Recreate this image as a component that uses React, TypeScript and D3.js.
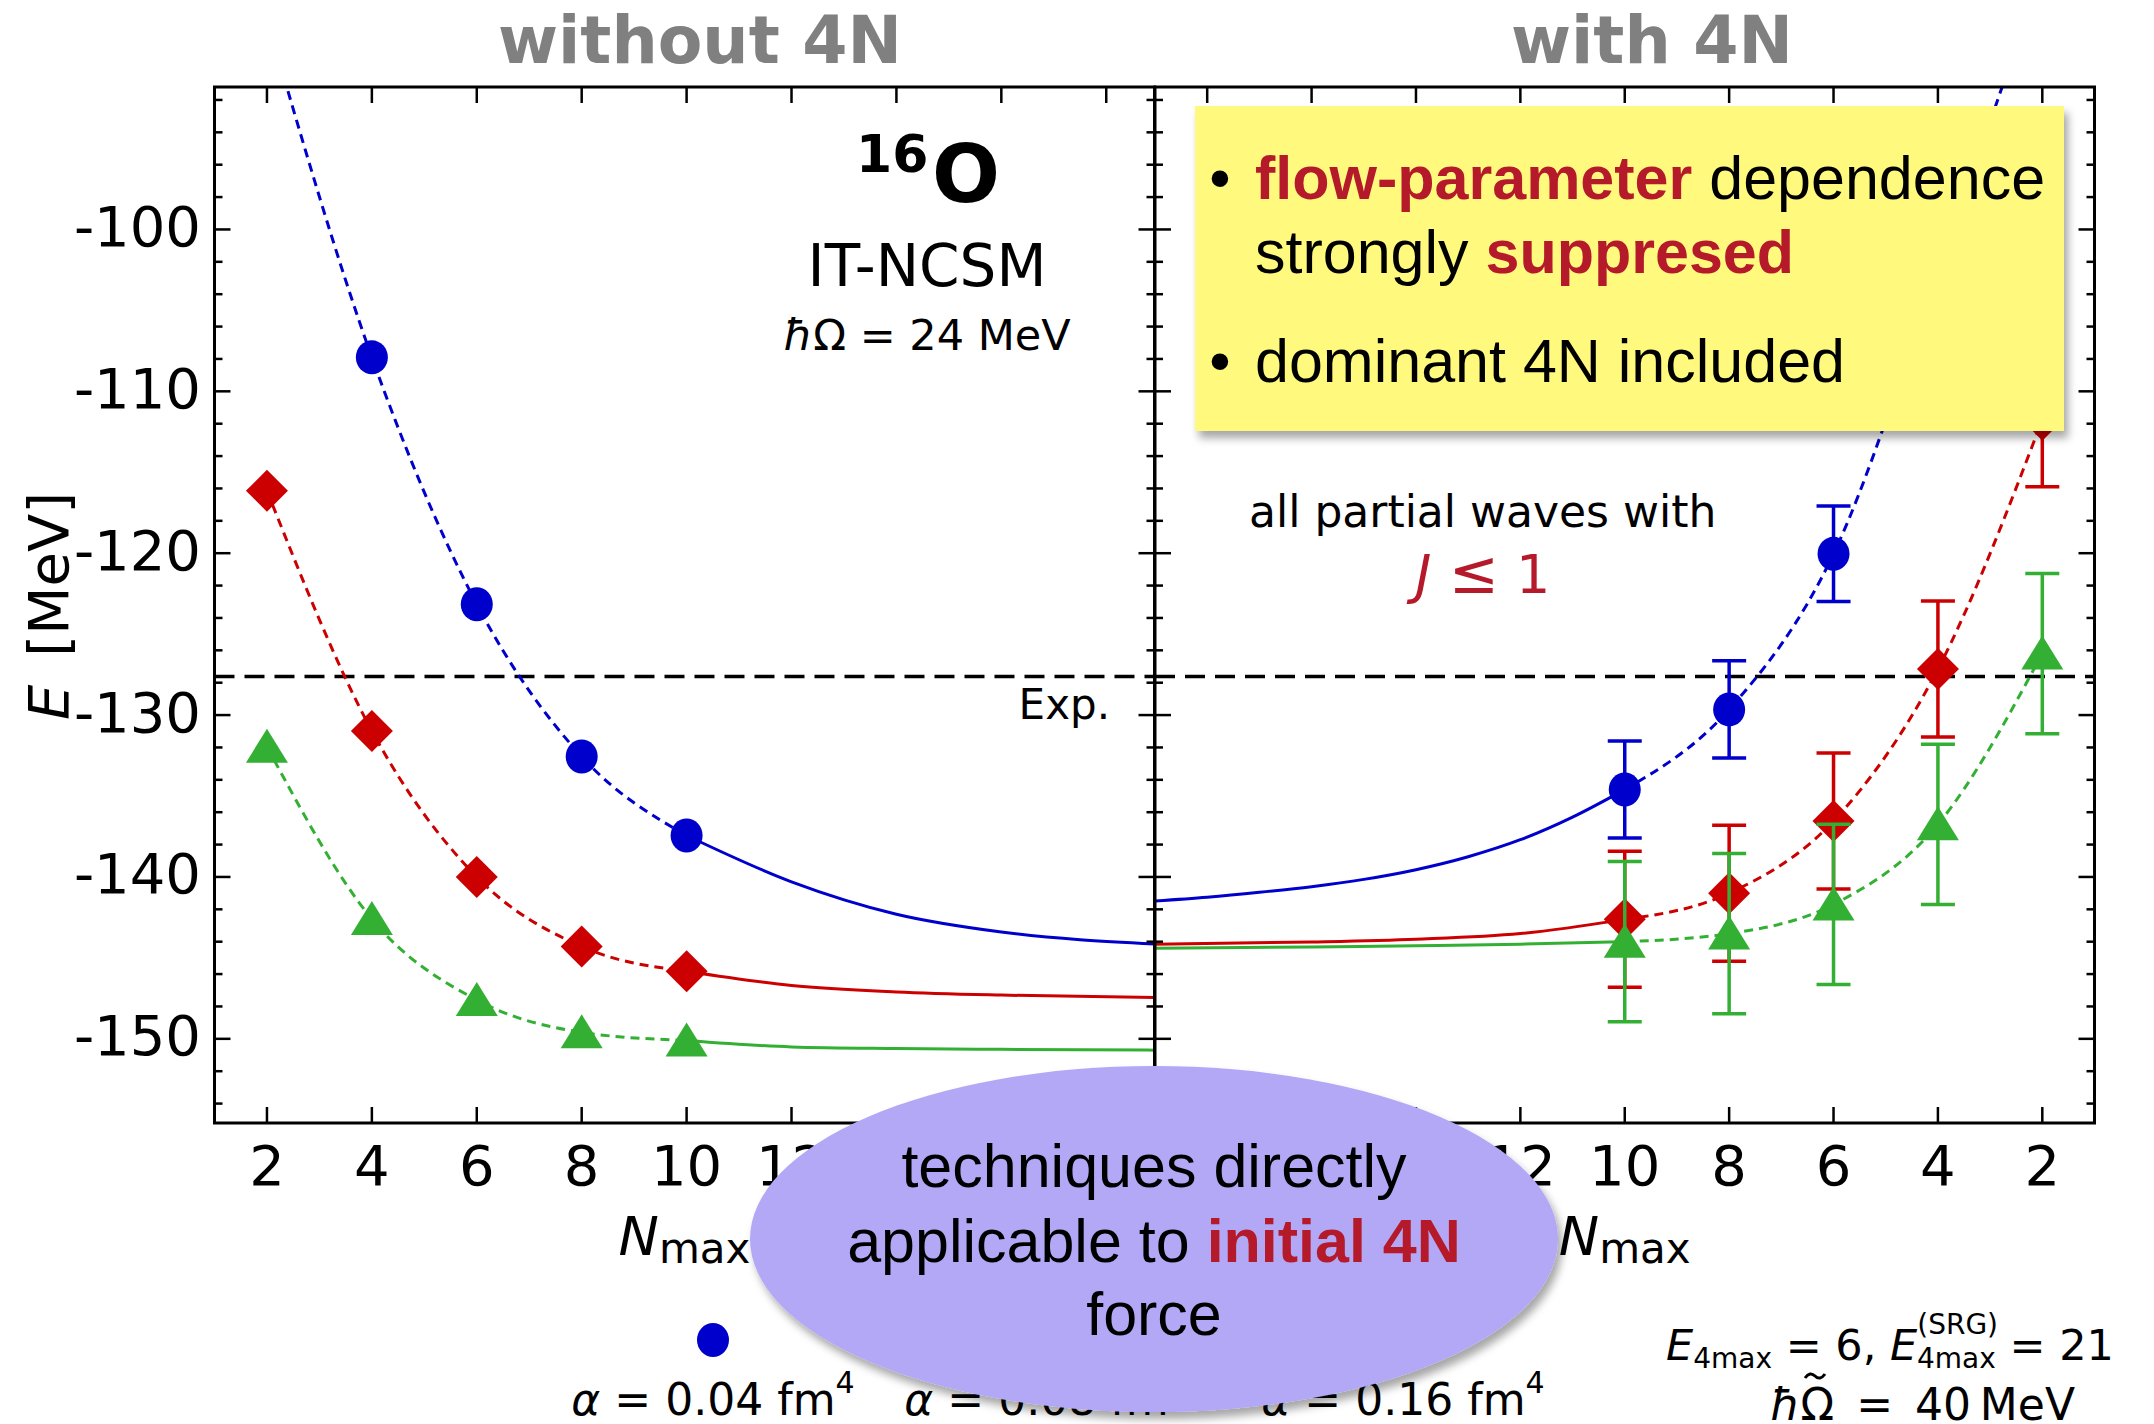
import React from "react";
import * as d3 from "d3";

// N_max grid
const nmaxNo4N = [2, 4, 6, 8, 10];
const nmax4N = [10, 8, 6, 4, 2];
const nmaxExtrap = [10, 12, 14, 16, 19];
const nmaxExtrapFine = [10, 11, 12, 13, 14, 15, 16, 17, 18, 19];
const xTickValues = [2, 4, 6, 8, 10, 12, 14, 16, 18];
const yMajorTicks = [-150, -140, -130, -120, -110, -100];

// flow parameters
const alphaLabels = ["0.04", "0.08", "0.16"];
const seriesColors = ["#0000cc", "#cc0000", "#33b033"];
const markerShapes = ["circle", "diamond", "triangle"];

// without 4N: ground-state energies [MeV]
const blueNo4N = [-87, -107.9, -123.15, -132.56, -137.44];
const redNo4N = [-116.14, -130.98, -140.0, -144.3, -145.82];
const greenNo4N = [-131.95, -142.6, -147.6, -149.6, -150.1];
// without 4N: extrapolation curves (on nmaxExtrap)
const blueNo4NExtrap = [-137.44, -140.3, -142.3, -143.4, -144.15];
const redNo4NExtrap = [-145.82, -146.7, -147.1, -147.3, -147.45];
const greenNo4NExtrap = [-150.1, -150.5, -150.6, -150.65, -150.7];

// with 4N: energies and uncertainties [MeV]
const blue4N = [-134.6, -129.65, -120.04, -102.5, -84];
const blue4NErr = [3.0, 3.0, 2.95, 3.0, 3.0];
const red4N = [-142.62, -141.0, -136.54, -127.16, -111.75];
const red4NErr = [4.2, 4.2, 4.2, 4.2, 4.15];
const green4N = [-144.0, -143.5, -141.7, -136.75, -126.2];
const green4NErr = [4.95, 4.95, 4.95, 4.95, 4.95];
// with 4N: extrapolation curves
const blue4NExtrap = [-134.6, -136.3, -137.7, -138.75, -139.55, -140.15, -140.6, -140.95, -141.25, -141.48]; // on nmaxExtrapFine
const red4NExtrap = [-142.62, -143.5, -143.85, -144.02, -144.15];
const green4NExtrap = [-144.0, -144.15, -144.25, -144.32, -144.4];

const expEnergy = -127.62;

const W = 2154;
const H = 1424;
const TOP = 87;
const BOTTOM = 1123;
const DV = "'DejaVu Sans', sans-serif";
const ARIAL = "'Liberation Sans', Arial, sans-serif";
const TEXT_RED = "#b51a2a";

const y = d3.scaleLinear().domain([-155.2, -91.2]).range([BOTTOM, TOP]);
const xLeft = d3.scaleLinear().domain([1, 18.92]).range([214.5, 1154.5]);
const xRight = d3.scaleLinear().domain([19, 1]).range([1155, 2094.5]);

type Series = {
  color: string;
  shape: string;
  nmax: number[];
  e: number[];
  err?: number[];
  extNmax: number[];
  extrap: number[];
};

const leftSeries: Series[] = [
  { color: seriesColors[0], shape: markerShapes[0], nmax: nmaxNo4N, e: blueNo4N, extNmax: nmaxExtrap, extrap: blueNo4NExtrap },
  { color: seriesColors[1], shape: markerShapes[1], nmax: nmaxNo4N, e: redNo4N, extNmax: nmaxExtrap, extrap: redNo4NExtrap },
  { color: seriesColors[2], shape: markerShapes[2], nmax: nmaxNo4N, e: greenNo4N, extNmax: nmaxExtrap, extrap: greenNo4NExtrap },
];
const rightSeries: Series[] = [
  { color: seriesColors[0], shape: markerShapes[0], nmax: nmax4N, e: blue4N, err: blue4NErr, extNmax: nmaxExtrapFine, extrap: blue4NExtrap },
  { color: seriesColors[1], shape: markerShapes[1], nmax: nmax4N, e: red4N, err: red4NErr, extNmax: nmaxExtrap, extrap: red4NExtrap },
  { color: seriesColors[2], shape: markerShapes[2], nmax: nmax4N, e: green4N, err: green4NErr, extNmax: nmaxExtrap, extrap: green4NExtrap },
];

function Marker({ shape, cx, cy, color }: { shape: string; cx: number; cy: number; color: string }) {
  if (shape === "circle") return <ellipse cx={cx} cy={cy} rx={16} ry={17} fill={color} />;
  if (shape === "diamond")
    return <path d={`M${cx},${cy - 21}L${cx + 21},${cy}L${cx},${cy + 21}L${cx - 21},${cy}Z`} fill={color} />;
  return <path d={`M${cx},${cy - 18}L${cx + 21},${cy + 16}L${cx - 21},${cy + 16}Z`} fill={color} />;
}

function Panel({
  id,
  x,
  series,
  yLabels,
}: {
  id: string;
  x: d3.ScaleLinear<number, number>;
  series: Series[];
  yLabels: boolean;
}) {
  const [x0, x1] = [Math.min(...x.range()), Math.max(...x.range())];
  const minor = d3.range(-154, -91, 2).filter((v) => v % 10 !== 0);
  const line = d3
    .line<[number, number]>()
    .x((d) => x(d[0]))
    .y((d) => y(d[1]))
    .curve(d3.curveMonotoneX);
  const sorted = (pts: [number, number][]) => pts.slice().sort((a, b) => x(a[0]) - x(b[0]));

  return (
    <g>
      <defs>
        <clipPath id={`clip-${id}`}>
          <rect x={x0} y={TOP} width={x1 - x0} height={BOTTOM - TOP} />
        </clipPath>
      </defs>
      <line x1={x0} x2={x1} y1={y(expEnergy)} y2={y(expEnergy)} stroke="#000" strokeWidth={3.5} strokeDasharray="20,10" />
      <g clipPath={`url(#clip-${id})`}>
        {series.map((s, i) => {
          const pts = s.nmax.map((n, j) => [n, s.e[j]] as [number, number]);
          const ext = s.extNmax.map((n, j) => [n, s.extrap[j]] as [number, number]);
          return (
            <g key={i}>
              <path d={line(sorted(pts)) ?? ""} fill="none" stroke={s.color} strokeWidth={3} strokeDasharray="9,6" />
              <path d={line(sorted(ext)) ?? ""} fill="none" stroke={s.color} strokeWidth={3} />
              {s.err &&
                s.nmax.map((n, j) => {
                  const cx = x(n);
                  const ya = y(s.e[j] + s.err![j]);
                  const yb = y(s.e[j] - s.err![j]);
                  return (
                    <g key={j} stroke={s.color} strokeWidth={3.5}>
                      <line x1={cx} x2={cx} y1={ya} y2={yb} />
                      <line x1={cx - 17} x2={cx + 17} y1={ya} y2={ya} />
                      <line x1={cx - 17} x2={cx + 17} y1={yb} y2={yb} />
                    </g>
                  );
                })}
              {s.nmax.map((n, j) => (
                <Marker key={j} shape={s.shape} cx={x(n)} cy={y(s.e[j])} color={s.color} />
              ))}
            </g>
          );
        })}
      </g>
      <g stroke="#000" strokeWidth={2.5}>
        {xTickValues.map((t) => (
          <g key={t}>
            <line x1={x(t)} x2={x(t)} y1={BOTTOM} y2={BOTTOM - 16} />
            <line x1={x(t)} x2={x(t)} y1={TOP} y2={TOP + 16} />
          </g>
        ))}
        {yMajorTicks.map((t) => (
          <g key={t}>
            <line x1={x0} x2={x0 + 16} y1={y(t)} y2={y(t)} />
            <line x1={x1} x2={x1 - 16} y1={y(t)} y2={y(t)} />
          </g>
        ))}
        {minor.map((t) => (
          <g key={t}>
            <line x1={x0} x2={x0 + 8} y1={y(t)} y2={y(t)} />
            <line x1={x1} x2={x1 - 8} y1={y(t)} y2={y(t)} />
          </g>
        ))}
      </g>
      <rect x={x0} y={TOP} width={x1 - x0} height={BOTTOM - TOP} fill="none" stroke="#000" strokeWidth={3} />
      <g fontFamily={DV} fontSize={56} fill="#000" textAnchor="middle">
        {xTickValues.map((t) => (
          <text key={t} x={x(t)} y={1185}>
            {t}
          </text>
        ))}
      </g>
      {yLabels && (
        <g fontFamily={DV} fontSize={56} fill="#000" textAnchor="end">
          {yMajorTicks.map((t) => (
            <text key={t} x={201} y={y(t) + 16.5}>
              {`${t}`}
            </text>
          ))}
        </g>
      )}
      <text x={(x0 + x1) / 2} y={1255} fontFamily={DV} fontSize={54} textAnchor="middle">
        <tspan fontStyle="italic">N</tspan>
        <tspan fontSize={42} dy={8}>
          max
        </tspan>
      </text>
    </g>
  );
}

export default function App() {
  const legendX = [713, 1046, 1403];
  return (
    <svg
      width={W}
      height={H}
      viewBox={`0 0 ${W} ${H}`}
      style={{ position: "absolute", left: 0, top: 0, display: "block", background: "#fff" }}
    >
      <defs>
        <filter id="shadow" x="-10%" y="-10%" width="125%" height="135%">
          <feDropShadow dx={4} dy={7} stdDeviation={4} floodColor="#000" floodOpacity={0.35} />
        </filter>
      </defs>
      <rect width={W} height={H} fill="#fff" />

      <text x={700} y={63} fontFamily={DV} fontWeight="bold" fontSize={65} fill="#808080" textAnchor="middle">
        without 4N
      </text>
      <text x={1652} y={63} fontFamily={DV} fontWeight="bold" fontSize={65} fill="#808080" textAnchor="middle">
        with 4N
      </text>

      <Panel id="left" x={xLeft} series={leftSeries} yLabels={true} />
      <Panel id="right" x={xRight} series={rightSeries} yLabels={false} />

      <text transform="translate(68,606) rotate(-90)" fontFamily={DV} fontSize={56} textAnchor="middle">
        <tspan fontStyle="italic">E</tspan>
        {"\u2002[MeV]"}
      </text>

      {/* left panel annotations */}
      <text fontFamily={DV} fontWeight="bold" fill="#000">
        <tspan x={856} y={172} fontSize={52}>
          16
        </tspan>
        <tspan x={932} y={202} fontSize={80}>
          O
        </tspan>
      </text>
      <text x={927} y={286} fontFamily={DV} fontSize={58} textAnchor="middle">
        IT-NCSM
      </text>
      <text x={927} y={350} fontFamily={DV} fontSize={43} textAnchor="middle">
        <tspan fontStyle="italic">ħ</tspan>Ω = 24 MeV
      </text>
      <text x={1110} y={719} fontFamily={DV} fontSize={42} textAnchor="end">
        Exp.
      </text>

      {/* right panel annotations */}
      <text x={1249} y={527} fontFamily={DV} fontSize={44}>
        all partial waves with
      </text>
      <text x={1483} y={593} fontFamily={DV} fontSize={54} fill={TEXT_RED} textAnchor="middle">
        <tspan fontStyle="italic">J</tspan> <tspan fontSize={60}>≤</tspan> 1
      </text>

      <rect x={1195} y={106} width={869} height={325} fill="#fff97e" filter="url(#shadow)" />
      <g fontFamily={ARIAL} fontSize={61} fill="#000">
        <text x={1220} y={199} textAnchor="middle">•</text>
        <text x={1220} y={382} textAnchor="middle">•</text>
        <text x={1255} y={199}>
          <tspan fill={TEXT_RED} fontWeight="bold">flow-parameter</tspan> dependence
        </text>
        <text x={1255} y={273}>
          strongly <tspan fill={TEXT_RED} fontWeight="bold">suppresed</tspan>
        </text>
        <text x={1255} y={382}>dominant 4N included</text>
      </g>

      {/* legend */}
      <g fontFamily={DV} fontSize={44} textAnchor="middle">
        {alphaLabels.map((a, i) => (
          <g key={a}>
            <Marker shape={markerShapes[i]} cx={legendX[i]} cy={1340} color={seriesColors[i]} />
            <text x={legendX[i]} y={1415}>
              <tspan fontStyle="italic">α</tspan> = {a} fm
              <tspan fontSize={30} dy={-22}>
                4
              </tspan>
            </text>
          </g>
        ))}
      </g>

      <ellipse cx={1154} cy={1239} rx={404} ry={173} fill="#b3a8f6" filter="url(#shadow)" />
      <g fontFamily={ARIAL} fontSize={61} fill="#000" textAnchor="middle">
        <text x={1154} y={1187}>techniques directly</text>
        <text x={1154} y={1262}>
          applicable to <tspan fill={TEXT_RED} fontWeight="bold">initial 4N</tspan>
        </text>
        <text x={1154} y={1335}>force</text>
      </g>

      {/* bottom right parameters */}
      <g fontFamily={DV} fontSize={43} fill="#000">
        <text x={1666} y={1360}>
          <tspan fontStyle="italic">E</tspan>
          <tspan fontSize={28} dy={8}>4max</tspan>
          <tspan dy={-8}>{" = 6,  "}</tspan>
          <tspan fontStyle="italic">E</tspan>
          <tspan fontSize={28} dy={-26}>(SRG)</tspan>
          <tspan fontSize={28} dx={-81} dy={34}>4max</tspan>
          <tspan dy={-8}>{" = 21"}</tspan>
        </text>
        <text x={1770} y={1420} fontSize={44}>
          <tspan fontStyle="italic">ħ</tspan>Ω{"\u2002=\u200240\u2009MeV"}
        </text>
        <path d="M1805,1378 q5,-7 10,-2 t10,-2" fill="none" stroke="#000" strokeWidth={3} />
      </g>
    </svg>
  );
}
